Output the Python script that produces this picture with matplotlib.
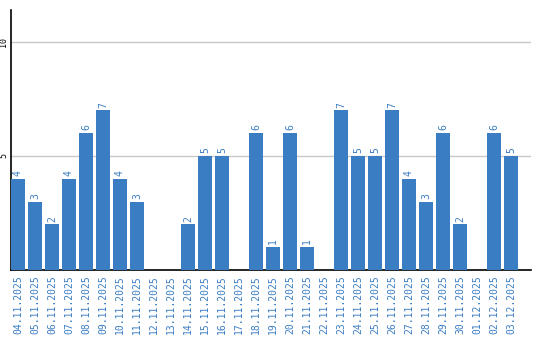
import numpy as np
import matplotlib.pyplot as plt

plt.rc('font', family='DejaVu Sans Mono')

dates = ["04.11.2025", "05.11.2025", "06.11.2025", "07.11.2025", "08.11.2025",
         "09.11.2025", "10.11.2025", "11.11.2025", "12.11.2025", "13.11.2025",
         "14.11.2025", "15.11.2025", "16.11.2025", "17.11.2025", "18.11.2025",
         "19.11.2025", "20.11.2025", "21.11.2025", "22.11.2025", "23.11.2025",
         "24.11.2025", "25.11.2025", "26.11.2025", "27.11.2025", "28.11.2025",
         "29.11.2025", "30.11.2025", "01.12.2025", "02.12.2025", "03.12.2025"]
counts = [4, 3, 2, 4, 6, 7, 4, 3, 0, 0, 2, 5, 5, 0, 6, 1, 6, 1, 0, 7,
          5, 5, 7, 4, 3, 6, 2, 0, 6, 5]

blue = '#3a7dc3'

fig = plt.figure(figsize=(5.4, 3.4), dpi=100)
ax = fig.add_axes([0.0204, 0.206, 0.963, 0.765])

x = np.arange(len(dates))
ax.bar(x, counts, width=0.82, color=blue, zorder=3)

for xi, c in zip(x, counts):
    if c > 0:
        ax.text(xi, c + 0.12, str(c), rotation=90, ha='center', va='bottom',
                fontsize=7, color=blue)

ax.set_xlim(-0.41, 30.18)
ax.set_ylim(0, 11.4)
ax.set_xticks(x)
ax.set_xticklabels(dates, rotation=90, fontsize=7, color=blue)
ax.set_yticks([5, 10])
ax.set_yticklabels(['5', '10'], rotation=90, fontsize=6, va='center')
ax.tick_params(axis='x', length=0, pad=4)
ax.tick_params(axis='y', length=0, pad=2)
ax.grid(axis='y', color='#c8c8c8', linewidth=1, zorder=0)

for s in ['top', 'right']:
    ax.spines[s].set_visible(False)
ax.spines['left'].set_color('black')
ax.spines['bottom'].set_color('black')
ax.spines['left'].set_linewidth(1.2)
ax.spines['bottom'].set_linewidth(1.2)

plt.savefig('out.png', dpi=100)
